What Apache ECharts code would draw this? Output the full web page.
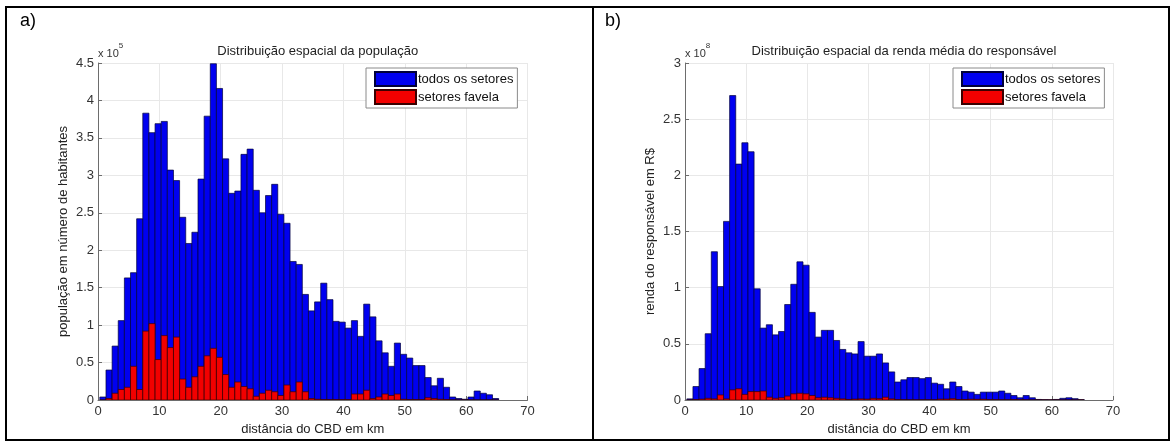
<!DOCTYPE html>
<html><head><meta charset="utf-8">
<script src="https://cdn.jsdelivr.net/npm/echarts@6/dist/echarts.min.js"></script>
<style>html,body{margin:0;padding:0;background:#fff}#c{width:1174px;height:443px}</style>
</head><body><div id="c"></div>
<script>
// histogram bins (km): left edges, each bin 1 km wide
const binLeft = [0.3,1.3,2.3,3.3,4.3,5.3,6.3,7.3,8.3,9.3,10.3,11.3,12.3,13.3,14.3,15.3,16.3,17.3,18.3,19.3,20.3,21.3,22.3,23.3,24.3,25.3,26.3,27.3,28.3,29.3,30.3,31.3,32.3,33.3,34.3,35.3,36.3,37.3,38.3,39.3,40.3,41.3,42.3,43.3,44.3,45.3,46.3,47.3,48.3,49.3,50.3,51.3,52.3,53.3,54.3,55.3,56.3,57.3,58.3,59.3,60.3,61.3,62.3,63.3,64.3];
const binWidth = 1.0;
// population (x 10^5)
const popAll = [0.04,0.40,0.72,1.06,1.63,1.70,2.42,3.83,3.57,3.69,3.72,3.07,2.93,2.44,2.09,2.24,2.95,3.79,4.49,4.16,3.22,2.76,2.79,3.28,3.35,2.80,2.50,2.73,2.88,2.48,2.36,1.85,1.81,1.41,1.19,1.31,1.56,1.34,1.05,1.04,0.96,1.06,0.85,1.28,1.11,0.79,0.63,0.45,0.76,0.61,0.56,0.46,0.46,0.30,0.19,0.29,0.17,0.04,0.02,0.01,0.04,0.12,0.09,0.07,0.02];
const popFavela = [0,0.02,0.09,0.14,0.17,0.45,0.14,0.92,1.02,0.54,0.86,0.70,0.84,0.28,0.17,0.31,0.45,0.59,0.69,0.57,0.34,0.17,0.24,0.18,0.15,0.05,0.09,0.13,0.11,0.06,0.20,0.11,0.24,0.11,0.02,0.01,0.005,0.005,0.005,0.005,0.005,0.08,0.08,0.13,0.02,0.04,0.08,0.06,0.08,0.01,0.005,0.005,0.005,0.03,0.02,0.01,0.005,0,0,0,0,0,0,0,0];
// income (x 10^8 R$)
const incAll = [0.01,0.12,0.28,0.59,1.32,1.01,1.59,2.71,2.10,2.29,2.21,0.99,0.64,0.67,0.58,0.61,0.85,1.03,1.23,1.20,0.78,0.56,0.62,0.62,0.53,0.45,0.42,0.41,0.52,0.39,0.39,0.41,0.33,0.25,0.16,0.18,0.20,0.20,0.19,0.20,0.15,0.14,0.10,0.16,0.12,0.08,0.07,0.05,0.07,0.07,0.07,0.08,0.06,0.04,0.02,0.04,0.02,0.005,0.003,0.002,0.005,0.015,0.02,0.012,0.003];
const incFavela = [0,0.003,0.008,0.015,0.01,0.045,0.01,0.09,0.10,0.05,0.075,0.075,0.08,0.025,0.015,0.02,0.035,0.055,0.06,0.055,0.04,0.02,0.025,0.02,0.015,0.01,0.005,0.008,0.01,0.008,0.015,0.012,0.025,0.01,0.003,0.002,0.001,0.001,0.001,0.001,0.001,0.008,0.008,0.012,0.004,0.004,0.007,0.006,0.007,0.003,0.002,0.001,0.001,0.003,0.002,0.001,0,0,0,0,0,0,0,0,0];
const xTicks = [0,10,20,30,40,50,60,70];
const seriesNames = ['todos os setores','setores favela'];
const titles = ['Distribuição espacial da população','Distribuição espacial da renda média do responsável'];
const yNames = ['população em número de habitantes','renda do responsável em R$'];
const xName = 'distância do CBD em km';
const exponents = ['5','8'];
const panelLabels = ['a)','b)'];

const FONT = "'Liberation Sans', Arial, sans-serif";
const BLUE = '#0000f0', RED = '#f20000';

function toData(vals){ return vals.map((v,i)=>[binLeft[i], binLeft[i]+binWidth, v]); }
function renderBar(params, api){
  const p0 = api.coord([api.value(0), api.value(2)]);
  const p1 = api.coord([api.value(1), 0]);
  return {type:'rect', shape:{x:p0[0], y:p0[1], width:p1[0]-p0[0], height:p1[1]-p0[1]},
    style: api.style()};
}
function barSeries(name, vals, gi, color, edge){
  return {type:'custom', name, xAxisIndex:gi, yAxisIndex:gi, data:toData(vals), renderItem:renderBar,
    clip:true, encode:{x:[0,1], y:2},
    itemStyle:{color, borderColor:edge, borderWidth:0.7}};
}
const grids = [{left:98, top:63, width:429.5, height:337},{left:685, top:63, width:428, height:337}];
const yMax = [4.5, 3];
const axisGray = '#6d6d6d';
const chart = echarts.init(document.getElementById('c'), null, {renderer:'canvas'});
const option = {
  backgroundColor:'#fff', animation:false,
  textStyle:{fontFamily:FONT},
  grid: grids,
  title: titles.map((t,i)=>({text:t, left: grids[i].left + grids[i].width/2, top:40, textAlign:'center',
    textStyle:{fontSize:13, fontWeight:'normal', color:'#222', fontFamily:FONT}})),
  legend: [0,1].map(i=>({data:seriesNames, orient:'vertical', left: i===0?366:953, top:68,
    itemWidth:41, itemHeight:14, itemGap:2, padding:[3,4,3,8], borderColor:'#8a8a8a', borderWidth:1,
    backgroundColor:'#fff', textStyle:{fontSize:13, color:'#111', fontFamily:FONT, padding:[0,0,0,-3]},
    selectedMode:false, icon:'rect'})),
  xAxis: [0,1].map(i=>({type:'value', gridIndex:i, min:0, max:70, interval:10,
    name:xName, nameLocation:'middle', nameGap:21, nameTextStyle:{fontSize:13, color:'#222', fontFamily:FONT},
    axisLine:{lineStyle:{color:axisGray}}, axisTick:{inside:true, length:4, lineStyle:{color:axisGray}},
    axisLabel:{fontSize:13, color:'#333', margin:5, fontFamily:FONT},
    splitLine:{show:true, lineStyle:{color:'#e8e8e8'}}})),
  yAxis: [0,1].map(i=>({type:'value', gridIndex:i, min:0, max:yMax[i], interval:0.5,
    name:yNames[i], nameLocation:'middle', nameGap:28, nameTextStyle:{fontSize:13, color:'#222', fontFamily:FONT},
    axisLine:{show:true, lineStyle:{color:axisGray}}, axisTick:{show:true, inside:true, length:4, lineStyle:{color:axisGray}},
    axisLabel:{fontSize:13, color:'#333', margin:4, fontFamily:FONT},
    splitLine:{show:true, lineStyle:{color:'#e8e8e8'}}})),
  series: [
    barSeries(seriesNames[0], popAll, 0, BLUE, '#00003a'),
    barSeries(seriesNames[1], popFavela, 0, RED, '#3a0000'),
    barSeries(seriesNames[0], incAll, 1, BLUE, '#00003a'),
    barSeries(seriesNames[1], incFavela, 1, RED, '#3a0000')
  ],
  graphic: [
    {type:'rect', shape:{x:6, y:7, width:1163, height:433}, style:{fill:null, stroke:'#000', lineWidth:2}, silent:true},
    {type:'line', shape:{x1:593, y1:7, x2:593, y2:440}, style:{stroke:'#000', lineWidth:2}, silent:true},
    {type:'text', left:20, top:12, style:{text:panelLabels[0], fontSize:18, fill:'#000', fontFamily:FONT}},
    {type:'text', left:605, top:12, style:{text:panelLabels[1], fontSize:18, fill:'#000', fontFamily:FONT}},
    ...[0,1].map(i=>({type:'text', left: grids[i].left, top:42, style:{
      text:'{a|x 10}{b|'+exponents[i]+'}', fontFamily:FONT,
      rich:{a:{fontSize:11, fill:'#333', fontFamily:FONT, verticalAlign:'bottom', padding:[6,0,0,0]},
            b:{fontSize:8, fill:'#333', fontFamily:FONT, verticalAlign:'top'}}}}))
  ]
};
chart.setOption(option);
</script></body></html>
